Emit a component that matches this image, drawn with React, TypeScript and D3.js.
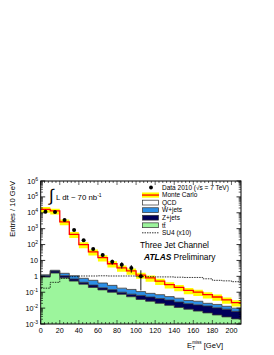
import * as d3 from "d3";

// bins are 10 GeV wide, lower edges
const binLow = [0, 10, 20, 30, 40, 50, 60, 70, 80, 90, 100, 110, 120, 130, 140, 150, 160, 170, 180, 190, 200];

// stacked MC components (Entries / 10 GeV)
const ttbar = [0.9, 1.6, 0.8, 0.5, 0.32, 0.2, 0.14, 0.1, 0.074, 0.052, 0.035, 0.027, 0.02, 0.015, 0.011, 0.0085, 0.0065, 0.005, 0.0037, 0.0028, 0.0021];
const zjets = [0.2, 0.55, 0.3, 0.18, 0.1, 0.08, 0.05, 0.045, 0.026, 0.023, 0.028, 0.023, 0.02, 0.017, 0.013, 0.0105, 0.0095, 0.0085, 0.0068, 0.0057, 0.0042];
const wjets = [0.15, 0.25, 0.45, 0.42, 0.33, 0.28, 0.19, 0.125, 0.08, 0.075, 0.047, 0.035, 0.03, 0.021, 0.018, 0.011, 0.011, 0.0065, 0.0065, 0.0045, 0.0036];
const qcd = [16499, 12998, 2698, 439, 99.2, 34.4, 14.6, 5.93, 3.22, 2.05, 1.09, 0.715, 0.43, 0.247, 0.158, 0.1, 0.073, 0.05, 0.033, 0.02, 0.012];
// relative MC uncertainty (yellow band)
const mcErr = [0.4, 0.4, 0.4, 0.42, 0.42, 0.42, 0.42, 0.42, 0.42, 0.42, 0.42, 0.42, 0.42, 0.42, 0.42, 0.42, 0.42, 0.42, 0.42, 0.42, 0.42];

// SU4 signal (x10)
const su4 = [0.18, 0.42, 0.75, 0.95, 1.05, 1.05, 1.08, 1.05, 1.05, 1.05, 0.95, 0.95, 0.92, 0.92, 0.88, 0.85, 0.85, 0.7, 0.56, 0.52, 0.46];

// data 2010
const dataVal = [11500, 11000, 3500, 820, 190, 52, 22, 8.3, 5.4, 3.3, 1];
const dataErrUp = [107, 105, 59, 29, 14, 7.2, 4.7, 2.9, 2.3, 1.8, 1.4];
const dataErrDn = [107, 105, 59, 29, 14, 7.2, 4.7, 2.9, 2.3, 1.6, 0.87];

const yExps = [-3, -2, -1, 0, 1, 2, 3, 4, 5, 6];
const xTicks = [0, 20, 40, 60, 80, 100, 120, 140, 160, 180, 200];

const W = 274;
const H = 355;
const m = { left: 40.7, right: 241, top: 181, bottom: 324 };
const font = "'Liberation Sans', Arial, Helvetica, sans-serif";

const x = d3.scaleLinear().domain([0, 210]).range([m.left, m.right]);
const y = d3.scaleLog().domain([1e-3, 1e6]).range([m.bottom, m.top]).clamp(true);

type Pt = { x: number; lo: number; hi: number };

// step points: one per edge, last repeats last bin
function steps(lo: number[], hi: number[]): Pt[] {
  const pts = binLow.map((b, i) => ({ x: b, lo: lo[i], hi: hi[i] }));
  const n = binLow.length - 1;
  pts.push({ x: binLow[n] + 10, lo: lo[n], hi: hi[n] });
  return pts;
}

const area = d3
  .area<Pt>()
  .curve(d3.curveStepAfter)
  .x((d) => x(d.x))
  .y0((d) => y(Math.max(d.lo, 1e-3)))
  .y1((d) => y(Math.max(d.hi, 1e-3)));

const topLine = d3
  .line<Pt>()
  .curve(d3.curveStepAfter)
  .x((d) => x(d.x))
  .y((d) => y(Math.max(d.hi, 1e-3)));

export default function App() {
  const rows = binLow.map((b, i) => ({ ttbar: ttbar[i], zjets: zjets[i], wjets: wjets[i], qcd: qcd[i] }));
  const keys = ["ttbar", "zjets", "wjets", "qcd"];
  const stacked = d3.stack<any>().keys(keys)(rows);
  const fills: Record<string, string> = {
    ttbar: "#9cf59c",
    zjets: "#00005a",
    wjets: "#2d8fe6",
    qcd: "#ffffff",
  };
  const total = rows.map((r) => r.ttbar + r.zjets + r.wjets + r.qcd);
  const band = steps(
    total.map((t, i) => t * (1 - mcErr[i])),
    total.map((t, i) => t * (1 + mcErr[i]))
  );
  const totalPts = steps(total, total);
  const su4Pts = steps(su4, su4);

  const yMinor: number[] = [];
  yExps.slice(0, -1).forEach((e) => {
    for (let k = 2; k <= 9; k++) yMinor.push(k * Math.pow(10, e));
  });
  const xMinor = d3.range(0, 211, 4);

  const legend = [
    { label: "Monte Carlo", kind: "mc" },
    { label: "QCD", kind: "qcd" },
    { label: "W+jets", kind: "wjets" },
    { label: "Z+jets", kind: "zjets" },
    { label: "tt\u0304", kind: "ttbar" },
    { label: "SU4 (x10)", kind: "su4" },
  ];
  const legX = 142;
  const legY0 = 187.5;
  const legDy = 7.55;

  return (
    <div style={{ position: "absolute", left: 0, top: 0 }}>
      <svg width={W} height={H} style={{ display: "block", fontFamily: font }}>
        <defs>
          <clipPath id="plotClip">
            <rect x={m.left} y={m.top} width={m.right - m.left} height={m.bottom - m.top} />
          </clipPath>
        </defs>
        <rect width={W} height={H} fill="#fff" />

        <g clipPath="url(#plotClip)">
          {/* stacked backgrounds */}
          {stacked.map((layer) => (
            <path
              key={layer.key}
              d={area(steps(layer.map((d) => d[0]), layer.map((d) => d[1]))) ?? ""}
              fill={fills[layer.key]}
            />
          ))}
          {/* MC uncertainty band */}
          <path d={area(band) ?? ""} fill="#ffff00" />
          {/* layer outlines */}
          {stacked.slice(0, 3).map((layer) => (
            <path
              key={"o" + layer.key}
              d={topLine(steps(layer.map((d) => d[1]), layer.map((d) => d[1]))) ?? ""}
              fill="none"
              stroke="#333"
              strokeWidth={0.8}
            />
          ))}
          {/* MC total */}
          <path d={topLine(totalPts) ?? ""} fill="none" stroke="#ff0000" strokeWidth={1.3} />
          {/* SU4 */}
          <path
            d={topLine(su4Pts) ?? ""}
            fill="none"
            stroke="#000"
            strokeWidth={0.8}
            strokeDasharray="1.5,1"
          />
          {/* data */}
          {dataVal.map((v, i) => {
            const cx = x(binLow[i] + 5);
            return (
              <g key={"d" + i}>
                <line
                  x1={cx}
                  x2={cx}
                  y1={y(v + dataErrUp[i])}
                  y2={y(Math.max(v - dataErrDn[i], 1e-3))}
                  stroke="#000"
                  strokeWidth={0.9}
                />
                <circle cx={cx} cy={y(v)} r={2} fill="#000" />
              </g>
            );
          })}
        </g>

        {/* frame */}
        <rect
          x={m.left}
          y={m.top}
          width={m.right - m.left}
          height={m.bottom - m.top}
          fill="none"
          stroke="#000"
          strokeWidth={1}
        />

        {/* y ticks */}
        {yExps.map((e) => {
          const yy = y(Math.pow(10, e));
          return (
            <g key={"ye" + e}>
              <line x1={m.left} x2={m.left + 4.5} y1={yy} y2={yy} stroke="#000" strokeWidth={0.8} />
              <line x1={m.right} x2={m.right - 4.5} y1={yy} y2={yy} stroke="#000" strokeWidth={0.8} />
              <text x={38} y={yy + 2.6} textAnchor="end" fontSize={7.2}>
                {e === 0 ? "1" : e === 1 ? "10" : (
                  <>
                    10
                    <tspan dy={-3} fontSize={5}>
                      {e}
                    </tspan>
                  </>
                )}
              </text>
            </g>
          );
        })}
        {yMinor.map((v, i) => {
          const yy = y(v);
          return (
            <g key={"ym" + i}>
              <line x1={m.left} x2={m.left + 2.3} y1={yy} y2={yy} stroke="#000" strokeWidth={0.6} />
              <line x1={m.right} x2={m.right - 2.3} y1={yy} y2={yy} stroke="#000" strokeWidth={0.6} />
            </g>
          );
        })}

        {/* x ticks */}
        {xMinor.map((v) => {
          const major = v % 20 === 0;
          const len = major ? 4 : 2;
          return (
            <g key={"xm" + v}>
              <line x1={x(v)} x2={x(v)} y1={m.bottom} y2={m.bottom - len} stroke="#000" strokeWidth={0.6} />
              <line x1={x(v)} x2={x(v)} y1={m.top} y2={m.top + len} stroke="#000" strokeWidth={0.6} />
            </g>
          );
        })}
        {xTicks.map((v) => (
          <text key={"xt" + v} x={x(v)} y={332.5} textAnchor="middle" fontSize={7.2}>
            {v}
          </text>
        ))}

        {/* axis titles */}
        <text
          transform={`translate(14.5,${m.top}) rotate(-90)`}
          textAnchor="end"
          fontSize={7.6}
        >
          Entries / 10 GeV
        </text>
        <text x={187} y={348} fontSize={7.6}>
          E
          <tspan dy={2} fontSize={5}>T</tspan>
          <tspan dx={-3} dy={-6} fontSize={4.6}>miss</tspan>
          <tspan dy={4}> [GeV]</tspan>
        </text>

        {/* lumi */}
        <text x={49} y={201} fontSize={17} fontWeight={300}>
          ∫
        </text>
        <text x={56} y={200} fontSize={7.8}>
          L dt ~ 70 nb<tspan dy={-3} fontSize={5}>-1</tspan>
        </text>

        {/* legend */}
        <circle cx={151} cy={legY0} r={1.9} fill="#000" />
        <text x={162} y={legY0 + 2.3} fontSize={6.5}>
          Data 2010 (√s = 7 TeV)
        </text>
        {legend.map((it, i) => {
          const cy = legY0 + legDy * (i + 1);
          let sym;
          if (it.kind === "mc") {
            sym = (
              <>
                <rect x={legX} y={cy - 2.6} width={17} height={5.2} fill="#ffff00" />
                <line x1={legX} x2={legX + 17} y1={cy} y2={cy} stroke="#ff0000" strokeWidth={1.3} />
              </>
            );
          } else if (it.kind === "su4") {
            sym = (
              <line
                x1={legX}
                x2={legX + 17}
                y1={cy}
                y2={cy}
                stroke="#000"
                strokeWidth={0.8}
                strokeDasharray="1.5,1"
              />
            );
          } else {
            sym = (
              <rect
                x={legX + 0.5}
                y={cy - 2.4}
                width={16}
                height={4.8}
                fill={fills[it.kind]}
                stroke="#333"
                strokeWidth={0.7}
              />
            );
          }
          return (
            <g key={it.kind}>
              {sym}
              <text x={162} y={cy + 2.3} fontSize={6.5}>
                {it.label}
              </text>
            </g>
          );
        })}

        {/* channel labels */}
        <text x={140} y={248} fontSize={8.4}>
          Three Jet Channel
        </text>
        <text x={144} y={259.5} fontSize={8.4}>
          <tspan fontWeight="bold" fontStyle="italic">ATLAS</tspan> Preliminary
        </text>
      </svg>
    </div>
  );
}
